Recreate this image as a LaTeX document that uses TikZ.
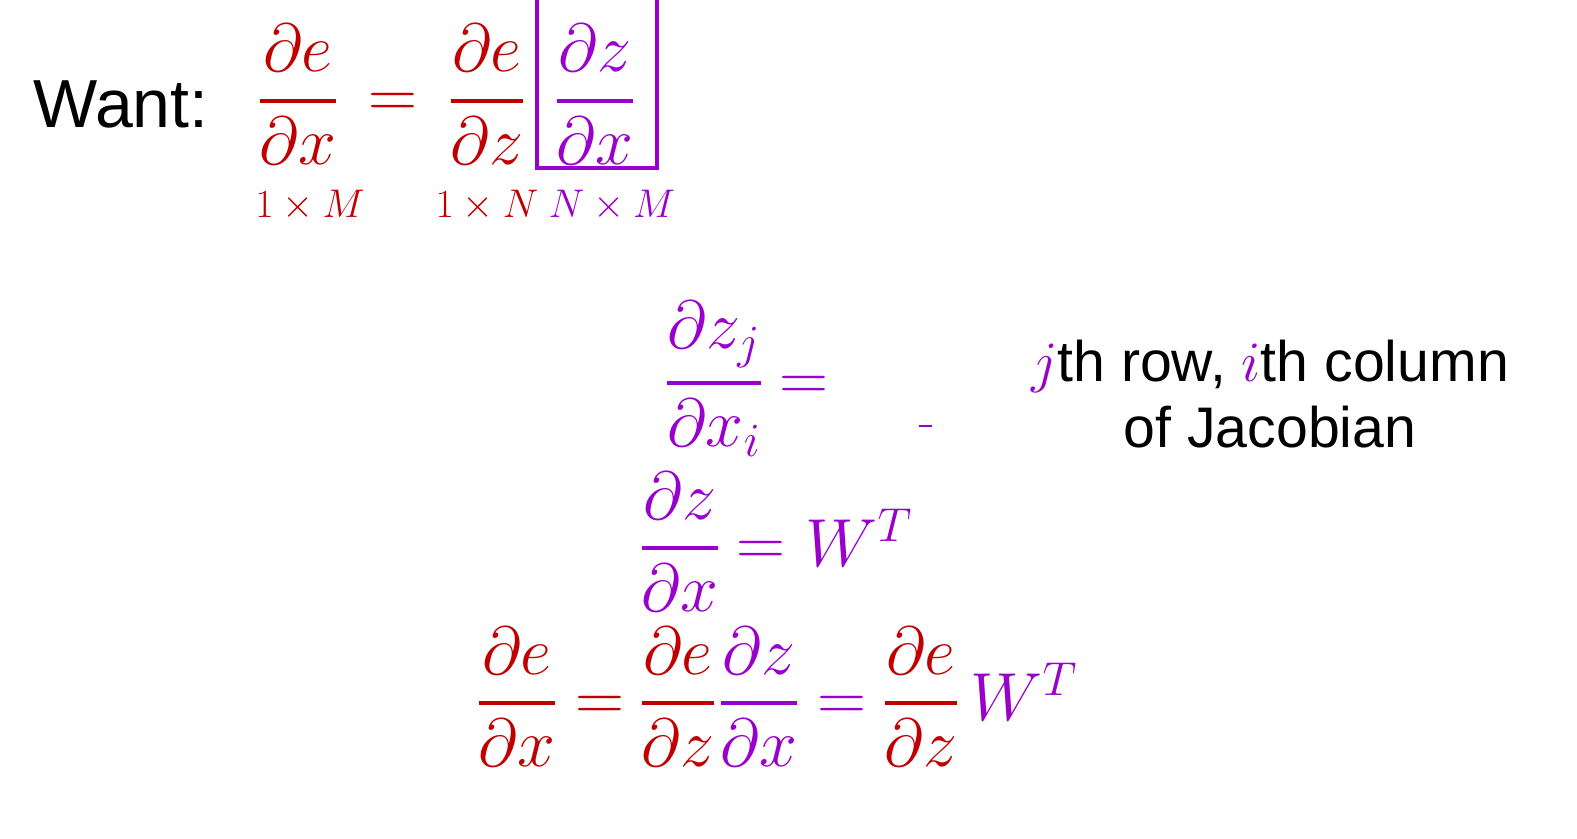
\documentclass[tikz,border=0pt]{standalone}
\usepackage{fix-cm}
\usepackage{amsmath}
\usepackage[no-math]{fontspec}
\setmainfont{Liberation Sans}
\usepackage{tikz}
\definecolor{jacred}{RGB}{192,0,0}
\definecolor{jacpurple}{RGB}{153,0,204}
\newcommand{\pd}[2]{\genfrac{}{}{2.2pt}{0}{\partial #1}{\partial #2}}

\begin{document}
\begin{tikzpicture}[x=0.5pt,y=-0.5pt,
  mathred/.style={text=jacred,font=\fontsize{34}{40}\selectfont,inner sep=0pt,anchor=base},
  mathpurple/.style={mathred,text=jacpurple},
  dimred/.style={text=jacred,font=\fontsize{20}{24}\selectfont,inner sep=0pt,anchor=base},
  dimpurple/.style={dimred,text=jacpurple}]
\useasboundingbox (0,0) rectangle (1577,839);
% want line
\node [font=\fontsize{34}{40}\selectfont,inner sep=0pt,anchor=base west] (want) at (33,128) {Want:};
\node [mathred] (dedx) at (298,118) {$\pd{e}{x}$};
\node [mathred] (eqa) at (393,118) {$=$};
\node [mathred] (dedz) at (487,118) {$\pd{e}{z}$};
\node [mathpurple] (dzdx) at (595,118) {$\pd{z}{x}$};
\draw [jacpurple,line width=1.6pt] (537,-5) |- (657,168) -- (657,-5);
\node [dimred] (dima) at (310,218) {$1\times M$};
\node [dimred] (dimb) at (487,218) {$1\times N$};
\node [dimpurple] (dimc) at (612,218) {$N\times M$};
% one entry
\node [mathpurple] (dzjdxi) at (714,400) {$\pd{z_j}{x_i}$};
\node [mathpurple] (eqb) at (804,400) {$=$};
\draw [jacpurple,line width=1pt] (919,426) -- (932,426);
\node [font=\fontsize{28.6}{33}\selectfont,align=center] (note) at (1270,394)
{{\color{jacpurple}$j$}th row, {\color{jacpurple}$i$}th column\\of Jacobian};
% whole matrix
\node [mathpurple] (dzdxb) at (680,565) {$\pd{z}{x}$};
\node [mathpurple] (eqc) at (761,565) {$=$};
\node [mathpurple,anchor=base west] (wt) at (805,566) {$W^T$};
% chain rule
\node [mathred] (dedxb) at (517,720) {$\pd{e}{x}$};
\node [mathred] (eqd) at (600,720) {$=$};
\node [mathred] (dedzb) at (678,720) {$\pd{e}{z}$};
\node [mathpurple] (dzdxc) at (759,720) {$\pd{z}{x}$};
\node [mathpurple] (eqe) at (842,720) {$=$};
\node [mathred] (dedzc) at (921,720) {$\pd{e}{z}$};
\node [mathpurple,anchor=base west] (wtb) at (970,720) {$W^T$};
\end{tikzpicture}
\end{document}
